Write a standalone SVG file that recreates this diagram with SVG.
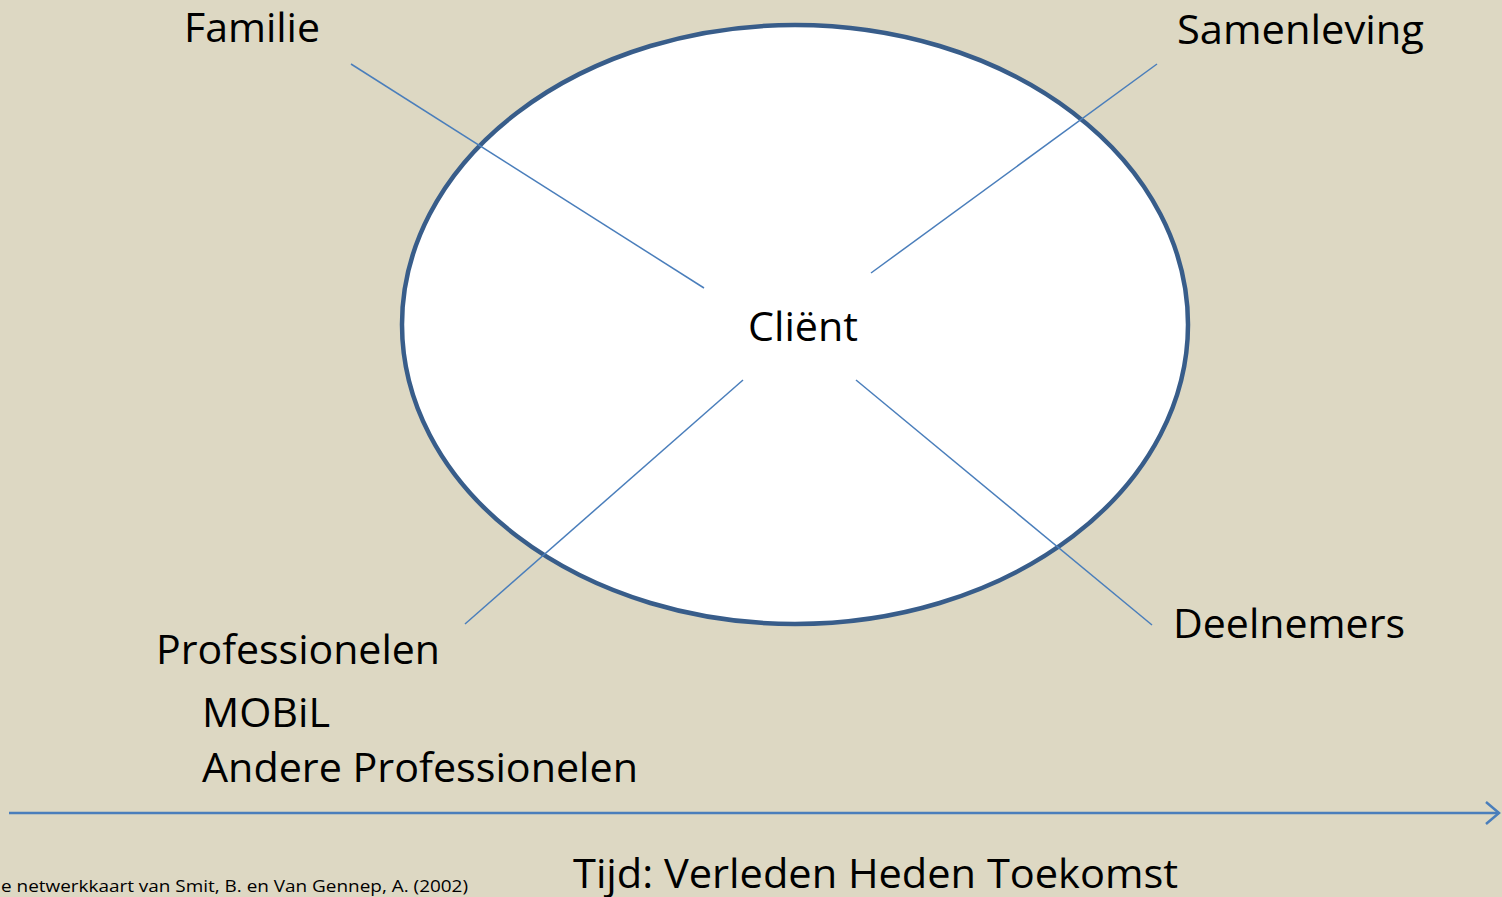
<svg xmlns="http://www.w3.org/2000/svg" width="1502" height="897" viewBox="0 0 1502 897">
<defs>
<style>
.t{font-family:"Open Sans","Liberation Sans",sans-serif;fill:#000;}
.big{font-size:40px;}
.ln{stroke:#4A7EBB;stroke-width:1.5;fill:none;}
</style>
<marker id="arr" markerWidth="16" markerHeight="24" refX="14" refY="12" orient="auto" markerUnits="userSpaceOnUse">
<path d="M1,1 L14,12 L1,23" fill="none" stroke="#4A7EBB" stroke-width="2.5"/>
</marker>
</defs>
<rect width="1502" height="897" fill="#DDD8C3"/>
<g id="client">
<ellipse cx="795" cy="324.5" rx="393" ry="299.5" fill="#fff" stroke="#385D8A" stroke-width="4.5"/>
<text class="t big" x="748" y="341" textLength="110" lengthAdjust="spacingAndGlyphs">Cliënt</text>
</g>
<g id="connectors">
<line class="ln" x1="351" y1="64" x2="704" y2="288"/>
<line class="ln" x1="1157" y1="64" x2="871" y2="273"/>
<line class="ln" x1="743" y1="380" x2="465" y2="624"/>
<line class="ln" x1="856" y1="380" x2="1152" y2="625"/>
<line x1="9" y1="813" x2="1499" y2="813" stroke="#4A7EBB" stroke-width="2.5" marker-end="url(#arr)"/>
</g>
<g id="familie"><text class="t big" x="184" y="42" textLength="136" lengthAdjust="spacingAndGlyphs">Familie</text></g>
<g id="samenleving"><text class="t big" x="1177" y="44" textLength="247" lengthAdjust="spacingAndGlyphs">Samenleving</text></g>
<g id="professionelen">
<text class="t big" x="156" y="664" textLength="284" lengthAdjust="spacingAndGlyphs">Professionelen</text>
<text class="t big" x="202" y="727" textLength="128" lengthAdjust="spacingAndGlyphs">MOBiL</text>
<text class="t big" x="202" y="782" textLength="436" lengthAdjust="spacingAndGlyphs">Andere Professionelen</text>
</g>
<g id="deelnemers"><text class="t big" x="1173" y="638" textLength="232" lengthAdjust="spacingAndGlyphs">Deelnemers</text></g>
<g id="tijd"><text class="t big" x="573" y="888" textLength="605" lengthAdjust="spacingAndGlyphs">Tijd: Verleden Heden Toekomst</text></g>
<g id="bron"><text class="t" x="1" y="892" font-size="16" textLength="467" lengthAdjust="spacingAndGlyphs">e netwerkkaart van Smit, B. en Van Gennep, A. (2002)</text></g>
</svg>
